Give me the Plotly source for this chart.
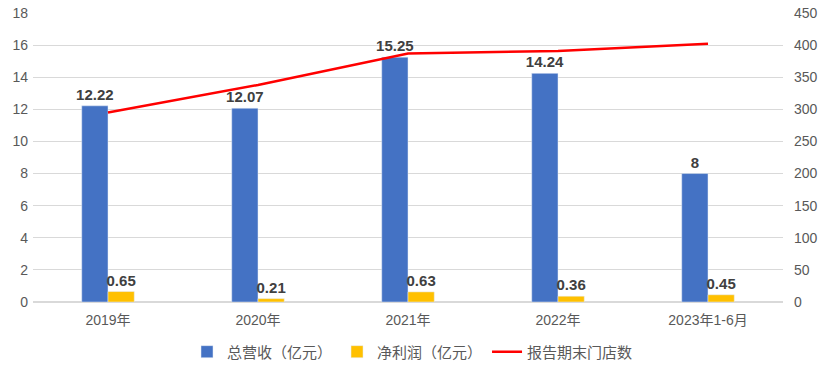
import plotly.graph_objects as go

categories = ["2019年", "2020年", "2021年", "2022年", "2023年1-6月"]
revenue = [12.22, 12.07, 15.25, 14.24, 8]
revenue_labels = ["12.22", "12.07", "15.25", "14.24", "8"]
profit = [0.65, 0.21, 0.63, 0.36, 0.45]
profit_labels = ["0.65", "0.21", "0.63", "0.36", "0.45"]
stores = [295, 338, 387, 391, 402]

FONT = "Liberation Sans, Noto Sans CJK SC, sans-serif"
CJK = "Noto Sans CJK SC, Liberation Sans, sans-serif"

fig = go.Figure()
fig.add_trace(go.Bar(
    x=categories, y=revenue, name="总营收（亿元）",
    marker_color="#4472C4", text=revenue_labels, textposition="outside",
    constraintext="none",
    textfont=dict(size=15, color="#404040", family=FONT, weight="bold"),
    cliponaxis=False,
))
fig.add_trace(go.Bar(
    x=categories, y=profit, name="净利润（亿元）",
    marker_color="#FFC000", text=profit_labels, textposition="outside",
    constraintext="none",
    textfont=dict(size=15, color="#404040", family=FONT, weight="bold"),
    cliponaxis=False,
))
fig.add_trace(go.Scatter(
    x=categories, y=stores, name="报告期末门店数", yaxis="y2",
    mode="lines", line=dict(color="#FF0000", width=2.5),
))

fig.update_layout(
    width=825, height=372,
    margin=dict(l=33, r=42, t=13, b=70, autoexpand=False),
    paper_bgcolor="white", plot_bgcolor="white",
    font=dict(family=FONT, size=14, color="#595959"),
    barmode="group", bargap=0.65, bargroupgap=0,
    showlegend=True,
    legend=dict(orientation="h", x=0.5, xanchor="center", xref="container",
                y=0.054, yanchor="middle", yref="container",
                font=dict(size=15, color="#595959", family=CJK), traceorder="normal",
                itemwidth=30),
    xaxis=dict(showgrid=False, showline=False, ticks="", ticklabelstandoff=8,
               tickfont=dict(size=14, color="#595959")),
    yaxis=dict(range=[0, 18], dtick=2, showgrid=True, gridcolor="#D9D9D9", gridwidth=1,
               zeroline=True, zerolinecolor="#D9D9D9", ticks="", ticklabelstandoff=4,
               tickfont=dict(size=14, color="#595959")),
    yaxis2=dict(range=[0, 450], dtick=50, overlaying="y", side="right", showgrid=False,
                zeroline=False, ticks="", ticklabelstandoff=10,
                tickfont=dict(size=14, color="#595959")),
)

fig.write_html("out.html", config={"displayModeBar": False},
               post_script="document.body.style.margin='0';")
